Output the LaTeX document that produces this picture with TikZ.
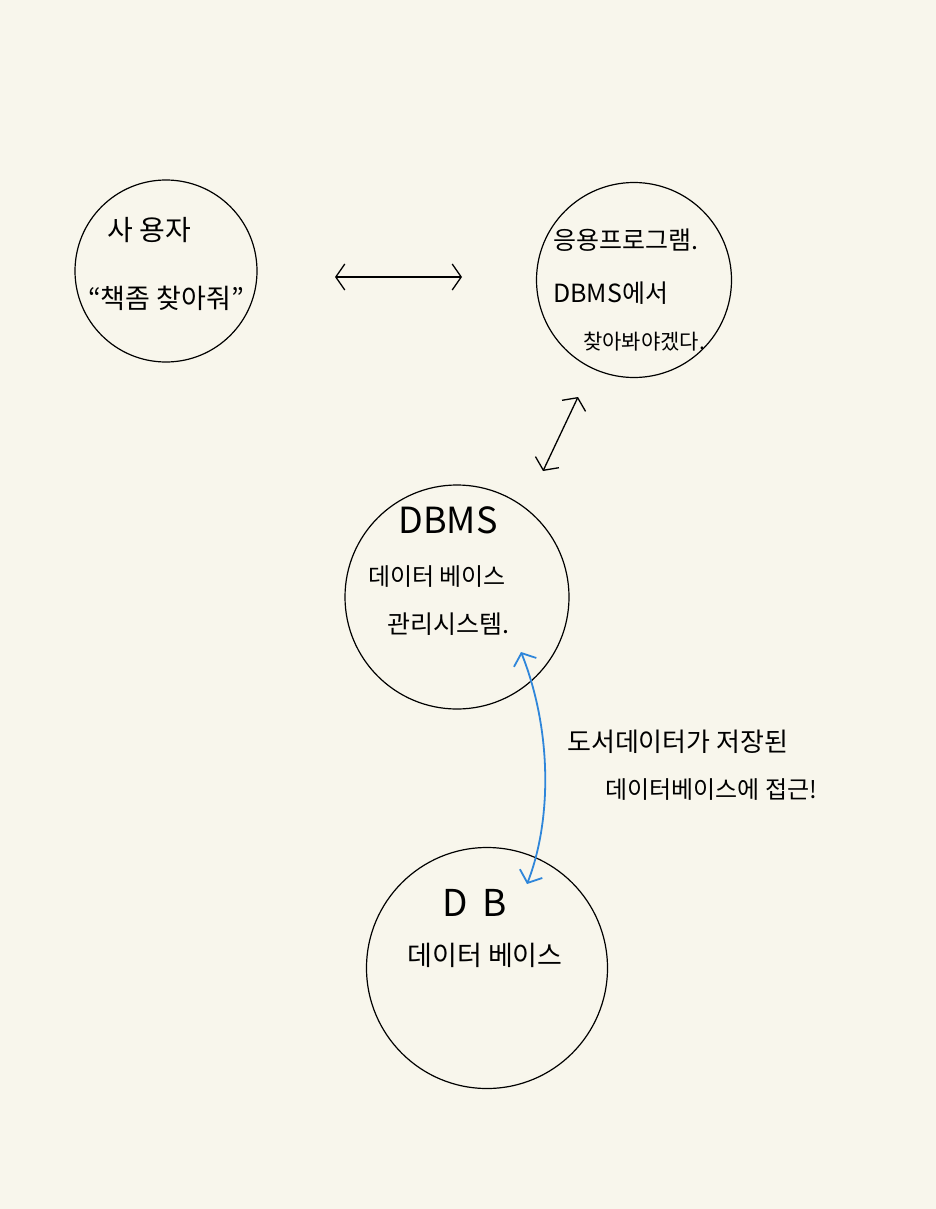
\documentclass[tikz,border=0pt]{standalone}
\usepackage{fontspec}
\setmainfont{Noto Sans CJK KR}
\usetikzlibrary{arrows.meta}
\definecolor{paper}{HTML}{F8F6EC}
\definecolor{penblue}{HTML}{2F86DA}

\begin{document}
\begin{tikzpicture}[
        x=1pt, y=-1pt,
        bubble/.style={circle, draw, line width=1.2pt, minimum size=#1, inner sep=0pt},
        note/.style={font=\fontsize{#1}{#1}\selectfont, inner sep=0pt},
        link/.style={{Straight Barb[length=9pt,width=26pt]}-{Straight Barb[length=9pt,width=26pt]}, line width=1.3pt},
        bluelink/.style={{Straight Barb[length=10pt,width=24pt]}-{Straight Barb[length=10pt,width=24pt]}, line width=1.8pt, penblue},
    ]
    \fill[paper] (0, 0) rectangle (936, 1209);
    \useasboundingbox (0, 0) rectangle (936, 1209);

    \node[bubble=182pt] (user) at (166, 271) {};
    \node[bubble=195pt] (app)  at (634, 280) {};
    \node[bubble=224pt] (dbms) at (457, 597) {};
    \node[bubble=241pt] (db)   at (487, 968) {};

    % user
    \node[note=28] (usertitle) at (149, 230) {사 용자};
    \node[note=27] (userquote) at (166, 298) {“책좀 찾아줘”};

    % application
    \node[note=25, anchor=west] (applabel) at (553, 240) {응용프로그램.};
    \node[note=25, anchor=west] (appline1) at (553, 293) {DBMS에서};
    \node[note=21, anchor=west] (appline2) at (583, 342) {찾아봐야겠다.};

    % dbms
    \node[note=36] (dbmstitle) at (448, 520) {DBMS};
    \node[note=24] (dbmsline1) at (437, 577) {데이터 베이스};
    \node[note=25] (dbmsline2) at (448, 624) {관리시스템.};

    % db
    \node[note=37] (dbtitle) at (475, 903) {D\, B};
    \node[note=27] (dbline)  at (485, 955) {데이터 베이스};

    % access note
    \node[note=26, anchor=west] (access1) at (567, 742) {도서데이터가 저장된};
    \node[note=24, anchor=west] (access2) at (605, 790) {데이터베이스에 접근!};

    \coordinate (userside) at (335, 277);
    \coordinate (appside)  at (462, 277);
    \coordinate (apptop)   at (578, 397);
    \coordinate (dbmstop)  at (543, 471);
    \coordinate (dbmsend)  at (521, 652);
    \coordinate (dbend)    at (527, 884);

    \draw[link] (userside) -- (appside);
    \draw[link] (apptop) -- (dbmstop);
    \draw[bluelink] (dbmsend) .. controls (552, 730) and (552, 820) .. (dbend);
\end{tikzpicture}
\end{document}
